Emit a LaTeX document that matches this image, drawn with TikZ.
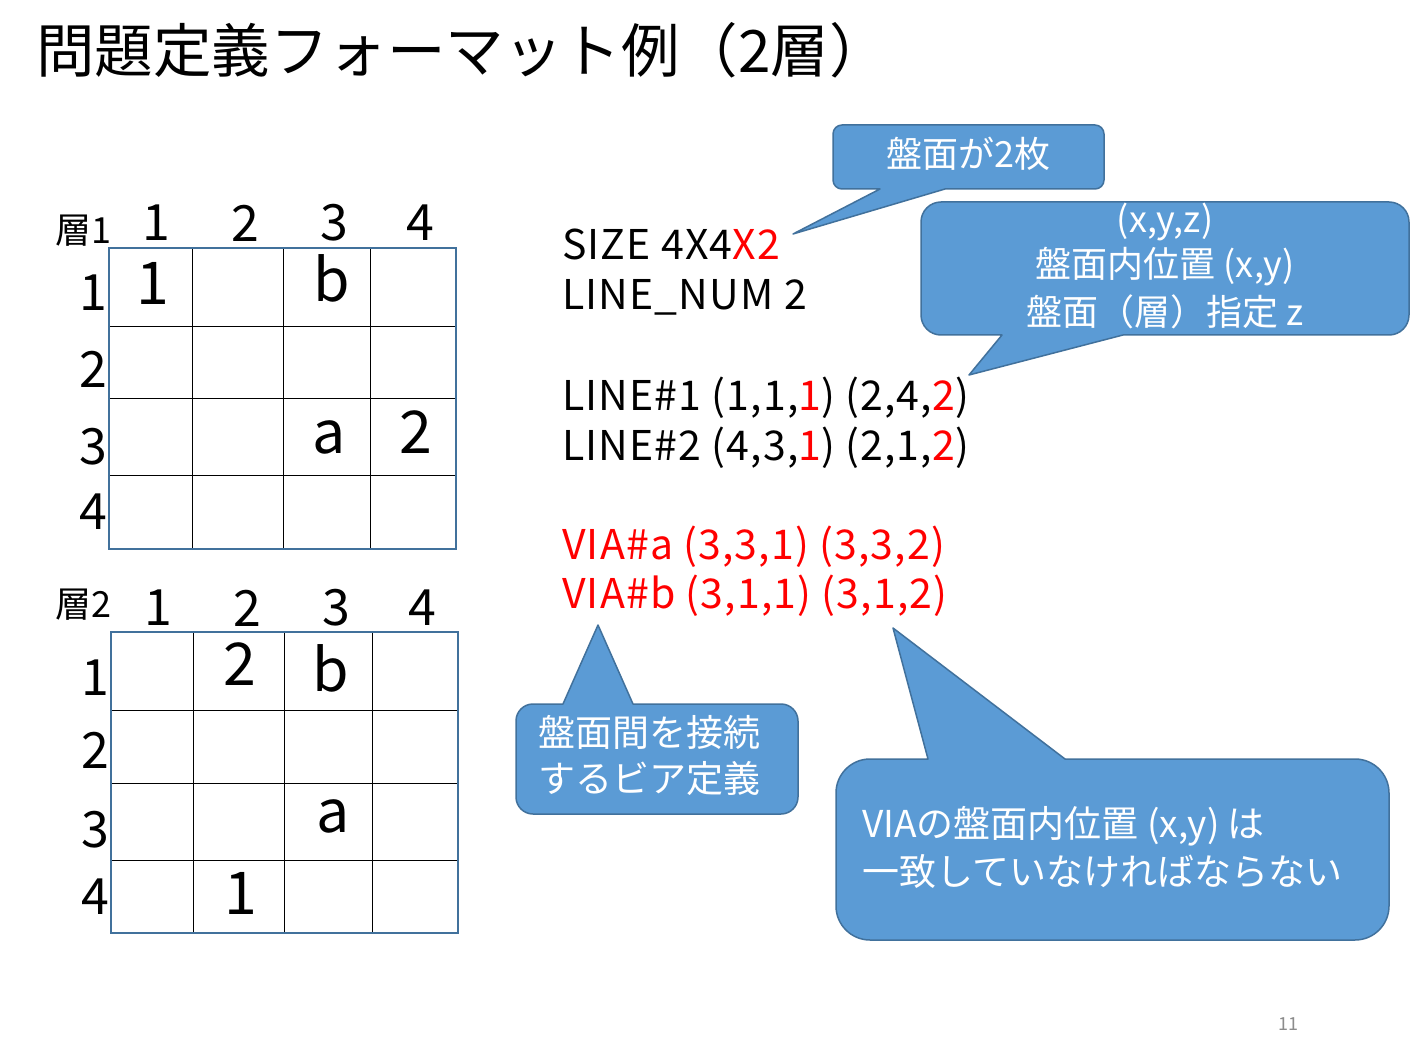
\documentclass[tikz,border=0pt]{standalone}
\usepackage{fontspec}
\setmainfont{Noto Sans CJK JP}
\newfontfamily\codefont{Noto Sans CJK JP}[LetterSpace=2.8]
\definecolor{cfill}{HTML}{5B9BD5}
\definecolor{cborder}{HTML}{41719C}
\definecolor{gborder}{HTML}{41719C}
\definecolor{pgnum}{HTML}{8C8C8C}
\tikzset{
  callout/.style={fill=cfill, draw=cborder, line width=1.5pt, line join=round},
  ctext/.style={text=white, font=\fontsize{36}{44}\selectfont, inner sep=0pt},
  code/.style={font=\codefont\fontsize{41}{50}\selectfont, inner sep=0pt, anchor=base west},
  hdr/.style={font=\fontsize{50}{60}\selectfont, inner sep=0pt},
  cellt/.style={font=\fontsize{59}{70}\selectfont, inner sep=0pt},
  lay/.style={font=\fontsize{36}{44}\selectfont, inner sep=0pt},
  gridin/.style={draw=black, line width=0.9pt},
  gridout/.style={draw=gborder, line width=2pt},
}
\begin{document}
\begin{tikzpicture}[x=1pt,y=-1pt]
\useasboundingbox (0,0) rectangle (1410,1056);
\fill[white] (0,0) rectangle (1410,1056);

% title
\node[inner sep=0pt, anchor=west, font=\fontsize{58.5}{64}\selectfont] (title) at (36,50) {問題定義フォーマット例（2層）};

% ---------- grid 1 ----------
\foreach \x in {192,283,370} \draw[gridin] (\x,248) -- (\x,549);
\foreach \y in {326,398,475} \draw[gridin] (109,\y) -- (456,\y);
\draw[gridout] (109,248) rectangle (456,549);
\node[lay] (lay1) at (83,231) {層1};
\node[hdr] (g1c1) at (156,223) {1};
\node[hdr] (g1c2) at (245,223) {2};
\node[hdr] (g1c3) at (334,223) {3};
\node[hdr] (g1c4) at (420,223) {4};
\node[hdr] (g1r1) at (93,293) {1};
\node[hdr] (g1r2) at (93,369) {2};
\node[hdr] (g1r3) at (93,447) {3};
\node[hdr] (g1r4) at (93,512) {4};
\node[cellt] (g1a) at (153,283) {1};
\node[cellt] (g1b) at (332,278) {b};
\node[cellt] (g1c) at (329,437) {a};
\node[cellt] (g1d) at (416,432) {2};

% ---------- grid 2 ----------
\foreach \x in {193,284,372} \draw[gridin] (\x,632) -- (\x,933);
\foreach \y in {710,783,860} \draw[gridin] (111,\y) -- (458,\y);
\draw[gridout] (111,632) rectangle (458,933);
\node[lay] (lay2) at (83,605) {層2};
\node[hdr] (g2c1) at (158,608) {1};
\node[hdr] (g2c2) at (247,608) {2};
\node[hdr] (g2c3) at (336,608) {3};
\node[hdr] (g2c4) at (422,608) {4};
\node[hdr] (g2r1) at (95,678) {1};
\node[hdr] (g2r2) at (95,750) {2};
\node[hdr] (g2r3) at (95,830) {3};
\node[hdr] (g2r4) at (95,897) {4};
\node[cellt] (g2a) at (240,664) {2};
\node[cellt] (g2b) at (331,668) {b};
\node[cellt] (g2c) at (333,816) {a};
\node[cellt] (g2d) at (241,893) {1};

% ---------- code ----------
\node[code] (size) at (562,260) {SIZE 4X4\textcolor{red}{X2}};
\node[code] (lnum) at (562,310) {LINE\_NUM 2};
\node[code] (line1) at (562,410) {LINE\#1 (1,1,\textcolor{red}{1}) (2,4,\textcolor{red}{2})};
\node[code] (line2) at (562,460) {LINE\#2 (4,3,\textcolor{red}{1}) (2,1,\textcolor{red}{2})};
\node[code, text=red] (viaa) at (562,559) {VIA\#a (3,3,1) (3,3,2)};
\node[code, text=red] (viab) at (562,608) {VIA\#b (3,1,1) (3,1,2)};

% ---------- callouts ----------
\draw[callout] (793,234) -- (880,189) [rounded corners=9pt] -- (833,189) -- (833,125) -- (1104,125) -- (1104,189) [sharp corners] -- (945,189) -- cycle;
\node[ctext] (c1) at (968,154) {盤面が2枚};

\draw[callout] (969,375) -- (1002,335) [rounded corners=20pt] -- (921,335) -- (921,202) -- (1409,202) -- (1409,335) [sharp corners] -- (1123,335) -- cycle;
\node[ctext] (c2a) at (1165,222) {(x,y,z)};
\node[ctext] (c2b) at (1165,267) {盤面内位置 (x,y)};
\node[ctext] (c2c) at (1165,312) {盤面（層）指定 z};

\draw[callout] (598,625) -- (633,704) [rounded corners=17pt] -- (798,704) -- (798,814) -- (516,814) -- (516,704) [sharp corners] -- (563,704) -- cycle;
\node[ctext, anchor=west, font=\fontsize{37}{44}\selectfont] (c3a) at (538,732) {盤面間を接続};
\node[ctext, anchor=west, font=\fontsize{37}{44}\selectfont] (c3b) at (538,778) {するビア定義};

\draw[callout] (893,628) -- (1065,759) [rounded corners=34pt] -- (1389,759) -- (1389,940) -- (836,940) -- (836,759) [sharp corners] -- (928,759) -- cycle;
\node[ctext, anchor=west, font=\fontsize{37}{44}\selectfont] (c4a) at (862,826) {VIAの盤面内位置 (x,y) は};
\node[ctext, anchor=west, font=\fontsize{37}{44}\selectfont] (c4b) at (862,871) {一致していなければならない};

% page number
\node[inner sep=0pt, text=pgnum, font=\fontsize{18}{20}\selectfont] (pg) at (1288,1024) {11};
\end{tikzpicture}
\end{document}
